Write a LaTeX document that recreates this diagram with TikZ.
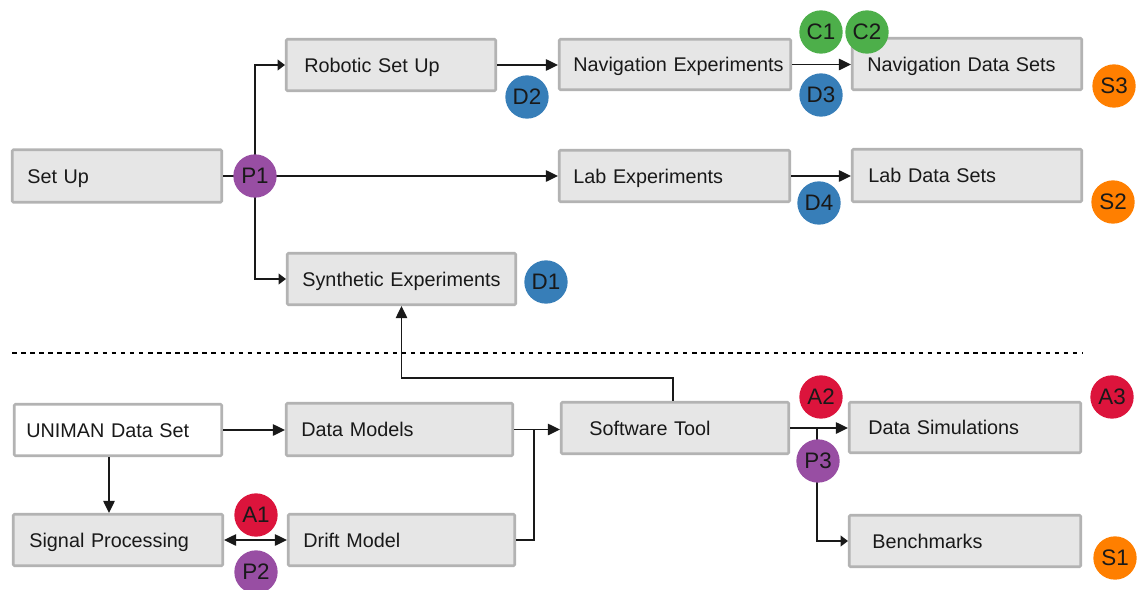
\documentclass[tikz,border=0pt]{standalone}
\usepackage{fontspec}
\setmainfont{Liberation Sans}
\usetikzlibrary{arrows.meta}

\definecolor{boxfill}{HTML}{E6E6E6}
\definecolor{boxline}{HTML}{B3B3B3}
\definecolor{cPurple}{HTML}{984EA3}
\definecolor{cBlue}{HTML}{377EB8}
\definecolor{cGreen}{HTML}{4DAF4A}
\definecolor{cOrange}{HTML}{FF7F00}
\definecolor{cRed}{HTML}{DC143C}

\tikzset{
  % process box: #1 width, #2 height, #3 left text indent (all in px units)
  blk/.style n args={3}{
    draw=boxline, fill=boxfill, line width=1.9pt, rounded corners=0.8pt,
    minimum width={(#1-2.5)*0.75pt}, minimum height={(#2-2.5)*0.75pt},
    inner xsep=0pt, text width={(#1-2.5)*0.75pt},
    text height=10.7pt, text depth=0pt,
    align=left, font=\fontsize{14.85pt}{17pt}\selectfont, text=black!90,
    execute at begin node={\hspace*{\dimexpr #3pt*3/4 - 1.4pt\relax}}
  },
  whiteblk/.style={fill=white},
  badge/.style={circle, fill=#1, draw=none, minimum size=32.5pt, inner sep=0pt,
    font=\fontsize{16.8pt}{18pt}\selectfont, text=black!90},
  conn/.style={line width=1.1pt, draw=black!90},
  arr/.style={conn, -{Triangle[length=9pt,width=8.5pt]}},
  sarr/.style={conn, -{Triangle[length=5.5pt,width=8pt]}},
  darr/.style={conn, {Triangle[length=9pt,width=8.5pt]}-{Triangle[length=9pt,width=8.5pt]}},
}

\begin{document}
\begin{tikzpicture}[x=0.75pt, y=-0.75pt]
\useasboundingbox (0,0) rectangle (1138,589);

% ---- upper part: experiments and data sets ----
\node[blk={212}{55}{17}] (setup)   at (117,176)   {Set Up};
\node[blk={212}{54}{20}] (robot)   at (391,65)    {Robotic Set Up};
\node[blk={234}{53}{16}] (navexp)  at (675,64.5)  {Navigation Experiments};
\node[blk={232}{54}{17}] (navdata) at (967,64)    {Navigation Data Sets};
\node[blk={233}{54}{16}] (labexp)  at (674.5,176) {Lab Experiments};
\node[blk={232}{55}{18}] (labdata) at (967,175.5) {Lab Data Sets};
\node[blk={231}{54}{17}] (synth)   at (401.5,279) {Synthetic Experiments};

% ---- lower part: data set, models and tools ----
\node[blk={210}{54}{14}, whiteblk] (uniman) at (118,430) {UNIMAN Data Set};
\node[blk={229}{55}{17}] (models)  at (399.5,429.5) {Data Models};
\node[blk={212}{54}{18}] (signal)  at (118,540)   {Signal Processing};
\node[blk={229}{54}{17}] (drift)   at (401.5,540) {Drift Model};
\node[blk={230}{54}{30}] (tool)    at (675,428)   {Software Tool};
\node[blk={234}{53}{21}] (sim)     at (965,427.5) {Data Simulations};
\node[blk={234}{54}{25}] (bench)   at (965,541)   {Benchmarks};

% helper points for the routed connectors
\coordinate (hub)   at (255,176);
\coordinate (down)  at (109,0);
\coordinate (merge) at (534,0);
\coordinate (fork)  at (817,428);
\coordinate (dashL) at (12,353);
\coordinate (dashR) at (1083,353);

% separator between the two parts
\draw[line width=1.5pt, dash pattern=on 3.4pt off 3.4pt] (dashL) -- (dashR);

% connectors, upper part
\draw[arr]  (setup.east) -- (labexp.west);
\draw[sarr] (hub) |- (robot.west);
\draw[sarr] (hub) |- (synth.west);
\draw[arr]  (robot.east) -- (robot.east -| navexp.west);
\draw[arr]  (navexp.east) -- (navexp.east -| navdata.west);
\draw[arr]  (labexp.east) -- (labexp.east -| labdata.west);

% connectors, lower part
\draw[arr]  (uniman.east) -- (uniman.east -| models.west);
\draw[arr]  (uniman.south -| down) -- (signal.north -| down);
\draw[darr] (signal.east) -- (signal.east -| drift.west);
\draw[arr]  (models.east) -- (models.east -| tool.west);
\draw[conn] (drift.east) -| (merge |- models.east);
\draw[arr]  ([xshift=-1.5pt]tool.north) -- ++(0,-23) -| (synth.south);
\draw[arr]  (tool.east) -- (tool.east -| sim.west);
\draw[sarr] (fork) |- (bench.west);

% badges
\node[badge=cPurple] (P1) at (hub)       {P1};
\node[badge=cBlue]   (D2) at (527,97)    {D2};
\node[badge=cGreen]  (C1) at (821,32)    {C1};
\node[badge=cGreen]  (C2) at (867,32)    {C2};
\node[badge=cBlue]   (D3) at (821,95)    {D3};
\node[badge=cOrange] (S3) at (1114,86)   {S3};
\node[badge=cBlue]   (D4) at (819,203)   {D4};
\node[badge=cOrange] (S2) at (1113,202)  {S2};
\node[badge=cBlue]   (D1) at (546,282)   {D1};
\node[badge=cRed]    (A2) at (821,397)   {A2};
\node[badge=cPurple] (P3) at (818,461)   {P3};
\node[badge=cRed]    (A3) at (1112,397)  {A3};
\node[badge=cOrange] (S1) at (1115,558)  {S1};
\node[badge=cRed]    (A1) at (256,515)   {A1};
\node[badge=cPurple] (P2) at (256,572)   {P2};
\end{tikzpicture}
\end{document}
